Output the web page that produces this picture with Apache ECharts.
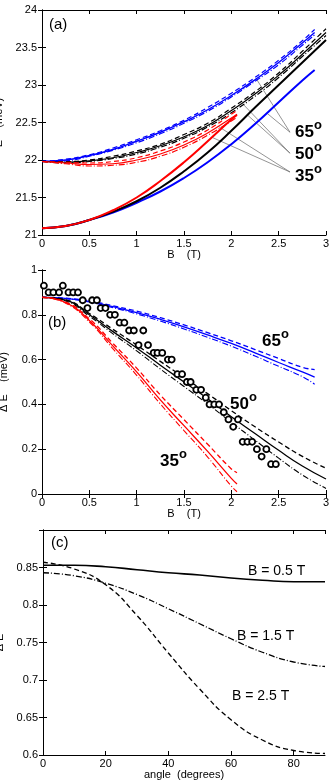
<!DOCTYPE html>
<html>
<head>
<meta charset="utf-8">
<script src="https://cdn.jsdelivr.net/npm/echarts@6/dist/echarts.min.js"></script>
<style>
html, body { margin: 0; padding: 0; background: #fff; }
#main { width: 332px; height: 783px; }
</style>
</head>
<body>
<div id="main"></div>
<script>
// ---- panel (a): E vs B ----
var bStep = [0, 0.25, 0.5, 0.75, 1, 1.25, 1.5, 1.75, 2, 2.25, 2.5, 2.75, 3];
var bBlue = [0, 0.25, 0.5, 0.75, 1, 1.25, 1.5, 1.75, 2, 2.25, 2.5, 2.75, 2.88];
var bRed = [0, 0.25, 0.5, 0.75, 1, 1.25, 1.5, 1.75, 2, 2.06];

var blueUp = [21.98, 22.0, 22.06, 22.14, 22.25, 22.37, 22.51, 22.67, 22.86, 23.07, 23.3, 23.56, 23.70];
var blueUpDash = [21.98, 22.01, 22.07, 22.16, 22.27, 22.39, 22.53, 22.70, 22.89, 23.10, 23.33, 23.59, 23.74];
var blueUpDot = [21.98, 21.99, 22.05, 22.13, 22.23, 22.35, 22.49, 22.65, 22.84, 23.05, 23.27, 23.53, 23.67];

var blackUp = [21.98, 21.97, 21.99, 22.03, 22.10, 22.19, 22.31, 22.46, 22.66, 22.88, 23.13, 23.41, 23.70];
var blackUpDash = [21.98, 21.98, 22.0, 22.05, 22.12, 22.21, 22.34, 22.49, 22.69, 22.91, 23.16, 23.45, 23.75];
var blackUpDot = [21.98, 21.96, 21.98, 22.02, 22.08, 22.17, 22.29, 22.44, 22.63, 22.85, 23.10, 23.38, 23.66];

var redUp = [21.98, 21.96, 21.94, 21.95, 22.0, 22.08, 22.2, 22.36, 22.56, 22.61];
var redUpDash = [21.98, 21.97, 21.96, 21.98, 22.03, 22.12, 22.24, 22.40, 22.61, 22.66];
var redUpDot = [21.98, 21.95, 21.92, 21.93, 21.97, 22.05, 22.17, 22.33, 22.52, 22.57];

var blueLow = [21.09, 21.12, 21.2, 21.3, 21.43, 21.58, 21.76, 21.97, 22.21, 22.48, 22.77, 23.06, 23.2];
var blackLow = [21.09, 21.12, 21.2, 21.31, 21.45, 21.63, 21.85, 22.1, 22.39, 22.7, 23.0, 23.3, 23.6];
var redLow = [21.09, 21.12, 21.2, 21.33, 21.5, 21.72, 21.97, 22.25, 22.54, 22.6];

// leader lines: [label point, upper branch point, lower branch point]
var lead65 = [[2.62, 22.37], [2.26, 23.09], [2.38, 22.62]];
var lead50 = [[2.62, 22.09], [2.12, 22.75], [2.17, 22.6]];
var lead35 = [[2.62, 21.84], [1.86, 22.45], [1.8, 22.3]];

// ---- panel (b): delta E vs B ----
var expB = [0.02, 0.07, 0.12, 0.18, 0.22, 0.28, 0.33, 0.38, 0.43, 0.48, 0.53, 0.58, 0.62, 0.67, 0.72, 0.77,
    0.82, 0.87, 0.92, 0.97, 1.02, 1.07, 1.12, 1.18, 1.22, 1.27, 1.33, 1.37, 1.43, 1.48, 1.53, 1.57,
    1.63, 1.68, 1.73, 1.77, 1.82, 1.87, 1.92, 1.97, 2.02, 2.07, 2.12, 2.17, 2.22, 2.27, 2.32, 2.37, 2.42, 2.47];
var expDE = [0.93, 0.90, 0.90, 0.90, 0.93, 0.90, 0.90, 0.90, 0.865, 0.83, 0.865, 0.865, 0.83, 0.83, 0.80, 0.80,
    0.765, 0.765, 0.73, 0.73, 0.665, 0.73, 0.665, 0.63, 0.63, 0.63, 0.60, 0.60, 0.535, 0.535, 0.50, 0.50,
    0.465, 0.465, 0.43, 0.40, 0.40, 0.40, 0.365, 0.333, 0.30, 0.333, 0.233, 0.233, 0.233, 0.20, 0.167, 0.20, 0.133, 0.133];

var gapBlue = [0.878, 0.873, 0.86, 0.836, 0.81, 0.78, 0.746, 0.71, 0.672, 0.63, 0.587, 0.545, 0.522];
var gapBlueDash = [0.878, 0.874, 0.862, 0.84, 0.816, 0.787, 0.755, 0.72, 0.684, 0.645, 0.605, 0.566, 0.555];
var gapBlueDot = [0.878, 0.872, 0.857, 0.832, 0.804, 0.772, 0.737, 0.699, 0.66, 0.616, 0.57, 0.524, 0.49];

var gapBlack = [0.878, 0.865, 0.8, 0.725, 0.652, 0.575, 0.5, 0.425, 0.345, 0.27, 0.195, 0.125, 0.067];
var gapBlackDash = [0.878, 0.867, 0.806, 0.735, 0.665, 0.592, 0.52, 0.448, 0.372, 0.3, 0.232, 0.168, 0.115];
var gapBlackDot = [0.878, 0.862, 0.794, 0.715, 0.639, 0.558, 0.48, 0.402, 0.32, 0.24, 0.16, 0.085, 0.025];

var gapRed = [0.878, 0.855, 0.775, 0.66, 0.545, 0.42, 0.305, 0.19, 0.07, 0.045];
var gapRedDash = [0.878, 0.857, 0.782, 0.672, 0.562, 0.442, 0.332, 0.222, 0.112, 0.095];
var gapRedDot = [0.878, 0.852, 0.768, 0.648, 0.53, 0.402, 0.283, 0.165, 0.035, 0.01];

// ---- panel (c): delta E vs angle ----
var angle = [0, 10, 20, 30, 40, 50, 60, 70, 80, 90];
var dE05 = [0.853, 0.853, 0.851, 0.847, 0.843, 0.84, 0.836, 0.833, 0.831, 0.831];
var dE15 = [0.843, 0.839, 0.829, 0.814, 0.795, 0.775, 0.755, 0.737, 0.724, 0.718];
var dE25 = [0.857, 0.848, 0.827, 0.786, 0.736, 0.688, 0.647, 0.62, 0.606, 0.602];

function pairs(xs, ys) {
    var out = [];
    for (var i = 0; i < ys.length; i++) out.push([xs[i], ys[i]]);
    return out;
}

var DASH = [5, 3];
var DOT = [6, 2, 1, 2];

function curve(idx, xs, ys, color, width, type) {
    return {
        type: 'line', xAxisIndex: idx, yAxisIndex: idx,
        data: pairs(xs, ys), smooth: true, showSymbol: false, silent: true,
        lineStyle: {color: color, width: width, type: type || 'solid'},
        z: 3
    };
}

function leader(lead) {
    var s = [];
    for (var i = 1; i < lead.length; i++) {
        s.push({
            type: 'line', xAxisIndex: 0, yAxisIndex: 0, silent: true, showSymbol: false,
            data: [lead[0], lead[i]],
            lineStyle: {color: '#666', width: 0.7}, z: 2
        });
    }
    return s;
}

var axisFont = {color: '#000', fontSize: 11, fontFamily: 'Liberation Sans, Arial, sans-serif'};
var frame = {show: true, lineStyle: {color: '#000', width: 1}};
var tick = {show: true, inside: true, length: 4, lineStyle: {color: '#000'}};

function xMain(grid, min, max, step, name) {
    return {
        type: 'value', gridIndex: grid, min: min, max: max, interval: step, position: 'bottom',
        axisLine: frame, axisTick: tick, splitLine: {show: false},
        axisLabel: Object.assign({margin: 3, showMaxLabel: max % step === 0}, axisFont),
        name: name, nameLocation: 'middle', nameGap: 11,
        nameTextStyle: Object.assign({}, axisFont)
    };
}
function xTop(grid, min, max, step) {
    return {
        type: 'value', gridIndex: grid, min: min, max: max, interval: step, position: 'top',
        axisLine: frame, axisTick: tick, splitLine: {show: false}, axisLabel: {show: false}
    };
}
function yMain(grid, min, max, step, name, showMax) {
    return {
        type: 'value', gridIndex: grid, min: min, max: max, interval: step, position: 'left',
        axisLine: frame, axisTick: tick, splitLine: {show: false},
        axisLabel: Object.assign({margin: 5, showMaxLabel: showMax}, axisFont),
        name: name, nameLocation: 'middle', nameGap: 33,
        nameTextStyle: Object.assign({}, axisFont)
    };
}
function yRight(grid, min, max, step) {
    return {
        type: 'value', gridIndex: grid, min: min, max: max, interval: step, position: 'right',
        axisLine: frame, axisTick: tick, splitLine: {show: false}, axisLabel: {show: false}
    };
}

var series = [];
// panel a
series.push(curve(0, bBlue, blueUpDash, '#0000ff', 1.2, DASH));
series.push(curve(0, bBlue, blueUpDot, '#0000ff', 1.2, DOT));
series.push(curve(0, bBlue, blueUp, '#0000ff', 1.4));
series.push(curve(0, bStep, blackUpDash, '#000', 1.2, DASH));
series.push(curve(0, bStep, blackUpDot, '#000', 1.2, DOT));
series.push(curve(0, bStep, blackUp, '#000', 1.2));
series.push(curve(0, bRed, redUpDash, '#ff0000', 1.2, DASH));
series.push(curve(0, bRed, redUpDot, '#ff0000', 1.2, DOT));
series.push(curve(0, bRed, redUp, '#ff0000', 1.2));
series.push(curve(0, bBlue, blueLow, '#0000ff', 2));
series.push(curve(0, bStep, blackLow, '#000', 2));
series.push(curve(0, bRed, redLow, '#ff0000', 2));
series = series.concat(leader(lead65), leader(lead50), leader(lead35));

// panel b
series.push(curve(1, bBlue, gapBlueDash, '#0000ff', 1.3, DASH));
series.push(curve(1, bBlue, gapBlueDot, '#0000ff', 1.1, DOT));
series.push(curve(1, bBlue, gapBlue, '#0000ff', 1.3));
series.push(curve(1, bStep, gapBlackDash, '#000', 1.3, DASH));
series.push(curve(1, bStep, gapBlackDot, '#000', 1.1, DOT));
series.push(curve(1, bStep, gapBlack, '#000', 1.3));
series.push(curve(1, bRed, gapRedDash, '#ff0000', 1.3, DASH));
series.push(curve(1, bRed, gapRedDot, '#ff0000', 1.1, DOT));
series.push(curve(1, bRed, gapRed, '#ff0000', 1.3));
series.push({
    type: 'scatter', xAxisIndex: 1, yAxisIndex: 1, silent: true,
    data: pairs(expB, expDE), symbol: 'circle', symbolSize: 6,
    itemStyle: {color: '#fff', borderColor: '#000', borderWidth: 1.8, opacity: 1}, z: 4
});

// panel c
series.push(curve(2, angle, dE05, '#000', 1.6));
series.push(curve(2, angle, dE15, '#000', 1.3, DOT));
series.push(curve(2, angle, dE25, '#000', 1.3, DASH));

function txt(x, y, s, size, bold) {
    return {
        type: 'text', left: x, top: y,
        style: {text: s, fontSize: size, fontWeight: bold ? 'bold' : 'normal',
            fontFamily: 'Liberation Sans, Arial, sans-serif', fill: '#000'}
    };
}
function deg(x, y, s) {
    return [txt(x, y, s, 17, true), txt(x + 19, y - 5, 'o', 13, true)];
}

var graphics = [
    txt(49, 17, '(a)', 15), txt(48, 315, '(b)', 15), txt(51, 535, '(c)', 15),
    txt(248, 564, 'B = 0.5 T', 14), txt(237, 629, 'B = 1.5 T', 14), txt(232, 689, 'B = 2.5 T', 14)
].concat(
    deg(295, 124, '65'), deg(295, 146, '50'), deg(295, 168, '35'),
    deg(262, 333, '65'), deg(230, 396, '50'), deg(160, 453, '35')
);

var gridBase = {containLabel: false, outerBoundsMode: 'none'};
var option = {
    animation: false,
    backgroundColor: '#fff',
    grid: [
        Object.assign({left: 42, top: 10, width: 284, height: 225}, gridBase),
        Object.assign({left: 42, top: 270, width: 284, height: 224}, gridBase),
        Object.assign({left: 43, top: 530, width: 282, height: 225}, gridBase)
    ],
    xAxis: [
        xMain(0, 0, 3, 0.5, 'B    (T)'),
        xMain(1, 0, 3, 0.5, 'B    (T)'),
        xMain(2, 0, 90, 20, 'angle  (degrees)'),
        xTop(0, 0, 3, 0.5), xTop(1, 0, 3, 0.5), xTop(2, 0, 90, 20)
    ],
    yAxis: [
        yMain(0, 21, 24, 0.5, 'E    (meV)', true),
        yMain(1, 0, 1, 0.2, '\u0394 E    (meV)', true),
        yMain(2, 0.6, 0.9, 0.05, '\u0394 E', false),
        yRight(0, 21, 24, 0.5), yRight(1, 0, 1, 0.2), yRight(2, 0.6, 0.9, 0.05)
    ],
    series: series,
    graphic: graphics
};

var myChart = echarts.init(document.getElementById('main'), null, {renderer: 'canvas'});
myChart.setOption(option);
</script>
</body>
</html>
